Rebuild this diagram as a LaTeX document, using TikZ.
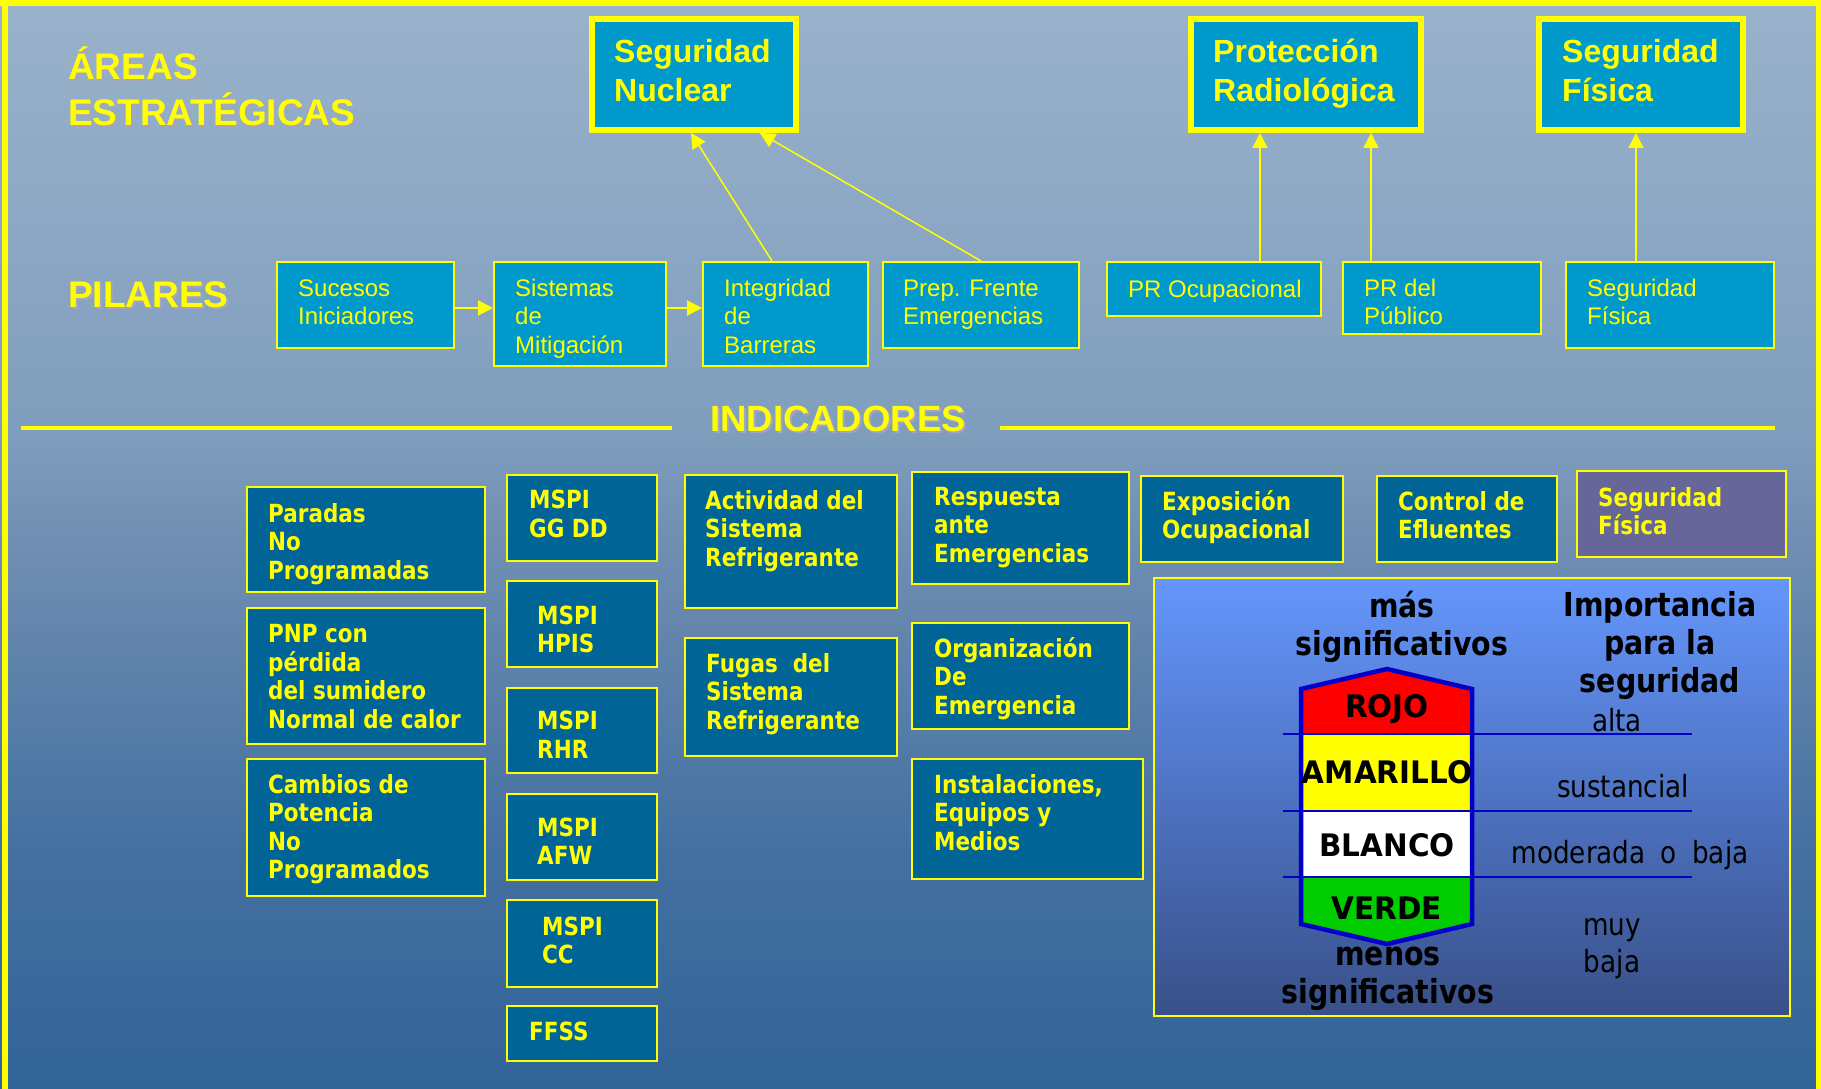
\documentclass[tikz,border=0pt]{standalone}
\usepackage{fontspec}
\setmainfont{Liberation Sans}
\newfontfamily\tah[FakeStretch=0.86]{DejaVu Sans}
\newfontfamily\tahw[FakeStretch=0.95]{DejaVu Sans}
\usetikzlibrary{arrows.meta,fit,calc}
\definecolor{bgtop}{RGB}{154,178,203}
\definecolor{bgm1}{RGB}{128,158,189}
\definecolor{bgm2}{RGB}{112,142,178}
\definecolor{bgm3}{RGB}{68,112,160}
\definecolor{bgbot}{RGB}{50,100,152}
\definecolor{areablue}{RGB}{0,153,204}
\definecolor{indblue}{RGB}{0,100,150}
\definecolor{purp}{RGB}{102,102,153}
\definecolor{legtop}{RGB}{100,150,252}
\definecolor{legbot}{RGB}{56,80,136}
\definecolor{shadowc}{RGB}{165,165,195}
\definecolor{yel}{RGB}{255,255,0}
\definecolor{sblue}{RGB}{0,0,200}
\definecolor{sred}{RGB}{255,0,0}
\definecolor{sgreen}{RGB}{0,204,0}
\pgfdeclareverticalshading{bgshade}{100bp}{color(0bp)=(bgbot); color(25bp)=(bgbot); color(36bp)=(bgm3); color(50bp)=(bgm2); color(55.5bp)=(bgm1); color(75bp)=(bgtop); color(100bp)=(bgtop)}
\newcommand\shtext[1]{\rlap{\kern2pt\raisebox{-2pt}{\textcolor{shadowc}{#1}}}#1}
\newcommand\tl[1]{\begin{tabular}[t]{@{}l@{}}#1\end{tabular}}
\newcommand\tc[1]{\begin{tabular}[t]{@{}c@{}}#1\end{tabular}}
\newcommand\bx[7]{%
  \node[#1, fit={#4 #5}] (#3) {};
  \node[#2] (#3-t) at #6 {\tl{#7}};}
\begin{document}
\begin{tikzpicture}[x=1pt,y=-1pt,
  areabox/.style={draw=yel, line width=6pt, fill=areablue, inner sep=0pt},
  pilbox/.style={draw=yel, line width=2pt, fill=areablue, inner sep=0pt},
  indbox/.style={draw=yel, line width=2.2pt, fill=indblue, inner sep=0pt},
  purbox/.style={draw=yel, line width=2.6pt, fill=purp, inner sep=0pt},
  areatxt/.style={anchor=base west, inner sep=0pt, text=yel, font=\bfseries\fontsize{32}{39}\selectfont},
  piltxt/.style={anchor=base west, inner sep=0pt, text=yel, font=\fontsize{24}{28.8}\selectfont},
  indtxt/.style={anchor=base west, inner sep=0pt, text=yel, font=\tah\bfseries\fontsize{25}{28.6}\selectfont},
  headtxt/.style={anchor=base west, inner sep=0pt, text=yel, font=\bfseries\fontsize{37}{44}\selectfont},
  legtxt/.style={anchor=base, inner sep=0pt, text=black, font=\tah\bfseries\fontsize{33}{38}\selectfont},
  shtxt/.style={anchor=base, inner sep=0pt, text=black, font=\tahw\bfseries\fontsize{31}{36}\selectfont},
  imptxt/.style={anchor=base, inner sep=0pt, text=black, font=\tah\fontsize{30.5}{37.5}\selectfont},
  arr/.style={draw=yel, line width=2pt, -{Triangle[length=15pt,width=15pt]}},
  arrthin/.style={draw=yel, line width=1.5pt, -{Triangle[length=15pt,width=15pt]}},
  sepline/.style={draw=yel, line width=4.5pt},
  blueline/.style={draw=sblue, line width=2.5pt}]
\useasboundingbox (0,0) rectangle (1821,1089);
% background
\shade[shading=bgshade] (0,0) rectangle (1821,1089);
\fill[yel] (0,0) rectangle (1821,6);
\fill[yel] (2,0) rectangle (8,1089);
\fill[yel] (1816,0) rectangle (1821,1089);

% headings
\node[headtxt] (hareas) at (68,80) {\tl{\shtext{ÁREAS}\\\shtext{ESTRATÉGICAS}}};
\node[headtxt] (hpil) at (68,307) {\shtext{PILARES}};
\node[headtxt, font=\bfseries\fontsize{36.5}{44}\selectfont] (hind) at (710,431) {\shtext{INDICADORES}};
\coordinate (sepL1) at (21,428);
\coordinate (sepR2) at (1775,428);
\draw[sepline] (sepL1) -- ($(hind.west |- sepL1)+(-38,0)$);
\draw[sepline] ($(hind.east |- sepR2)+(34,0)$) -- (sepR2);

% strategic areas
\bx{areabox}{areatxt}{sn}{(592,19)}{(796,130)}{(614,63)}{Seguridad\\Nuclear}
\bx{areabox}{areatxt}{pra}{(1191,19)}{(1421,130)}{(1213,63)}{Protección\\Radiológica}
\bx{areabox}{areatxt}{sfa}{(1539,19)}{(1743,130)}{(1562,63)}{Seguridad\\Física}

% pillars
\bx{pilbox}{piltxt}{suc}{(277,262)}{(454,348)}{(298,296)}{Sucesos\\Iniciadores}
\bx{pilbox}{piltxt}{sis}{(494,262)}{(666,366)}{(515,296)}{Sistemas\\de\\Mitigación}
\bx{pilbox}{piltxt}{int}{(703,262)}{(868,366)}{(724,296)}{Integridad\\de\\Barreras}
\bx{pilbox}{piltxt}{prep}{(883,262)}{(1079,348)}{(903,296)}{Prep. Frente\\Emergencias}
\bx{pilbox}{piltxt}{pocu}{(1107,262)}{(1321,316)}{(1128,297)}{PR Ocupacional}
\bx{pilbox}{piltxt}{ppub}{(1343,262)}{(1541,334)}{(1364,296)}{PR del\\Público}
\bx{pilbox}{piltxt}{psf}{(1566,262)}{(1774,348)}{(1587,296)}{Seguridad\\Física}

% pillar connectors
\draw[arr] (suc.east |- 0,308) -- (sis.west |- 0,308);
\draw[arr] (sis.east |- 0,308) -- (int.west |- 0,308);
\draw[arrthin] (int.north -| 772,0) -- (sn.south -| 691,0);
\draw[arrthin] (prep.north -| 981,0) -- (sn.south -| 760,0);
\draw[arrthin] (pocu.north -| 1260,0) -- (pra.south -| 1260,0);
\draw[arrthin] (ppub.north -| 1371,0) -- (pra.south -| 1371,0);
\draw[arrthin] (psf.north -| 1636,0) -- (sfa.south -| 1636,0);

% indicators
\bx{indbox}{indtxt}{i1}{(247,487)}{(485,592)}{(268,522)}{Paradas\\No\\Programadas}
\bx{indbox}{indtxt}{i2}{(247,608)}{(485,744)}{(268,642.5)}{PNP con\\pérdida\\del sumidero\\Normal de calor}
\bx{indbox}{indtxt}{i3}{(247,759)}{(485,896)}{(268,793)}{Cambios de\\Potencia\\No\\Programados}
\bx{indbox}{indtxt}{m1}{(507,475)}{(657,561)}{(529,508.5)}{MSPI\\GG DD}
\bx{indbox}{indtxt}{m2}{(507,581)}{(657,667)}{(537,624)}{MSPI\\HPIS}
\bx{indbox}{indtxt}{m3}{(507,688)}{(657,773)}{(537,729.5)}{MSPI\\RHR}
\bx{indbox}{indtxt}{m4}{(507,794)}{(657,880)}{(537,836)}{MSPI\\AFW}
\bx{indbox}{indtxt}{m5}{(507,900)}{(657,987)}{(542,935)}{MSPI\\CC}
\bx{indbox}{indtxt}{m6}{(507,1006)}{(657,1061)}{(529,1040.6)}{FFSS}
\bx{indbox}{indtxt}{a1}{(685,475)}{(897,608)}{(705,509)}{Actividad del\\Sistema\\Refrigerante}
\bx{indbox}{indtxt}{a2}{(685,638)}{(897,756)}{(706,672)}{Fugas\ \ del\\Sistema\\Refrigerante}
\bx{indbox}{indtxt}{e1}{(912,472)}{(1129,584)}{(934,505)}{Respuesta\\ante\\Emergencias}
\bx{indbox}{indtxt}{e2}{(912,623)}{(1129,729)}{(934,657)}{Organización\\De\\Emergencia}
\bx{indbox}{indtxt}{e3}{(912,759)}{(1143,879)}{(934,793)}{Instalaciones,\\Equipos y\\Medios}
\bx{indbox}{indtxt}{r1}{(1141,476)}{(1343,562)}{(1162,510)}{Exposición\\Ocupacional}
\bx{indbox}{indtxt}{r2}{(1377,476)}{(1557,562)}{(1398,510)}{Control de\\Efluentes}
\bx{purbox}{indtxt}{f1}{(1577,471)}{(1786,557)}{(1598,506)}{Seguridad\\Física}

% legend
\node[fit={(1154,578) (1790,1016)}, inner sep=0pt, draw=yel, line width=2.5pt, top color=legtop, bottom color=legbot] (legend) {};
\node[legtxt] (lmas) at (1402,617) {\tc{más\\significativos}};
\node[legtxt] (limp) at (1660,616) {\tc{Importancia\\para la\\seguridad}};
\node[legtxt] (lmenos) at (1388,965) {\tc{menos\\significativos}};
% shield
\fill[sred] (1301,734) -- (1301,689) -- (1387,669) -- (1472,689) -- (1472,734) -- cycle;
\fill[yel] (1301,734) rectangle (1472,811);
\fill[white] (1301,811) rectangle (1472,877);
\fill[sgreen] (1301,877) -- (1472,877) -- (1472,924) -- (1387,944) -- (1301,924) -- cycle;
\draw[blueline] (1283,734) -- (1692,734);
\draw[blueline] (1283,811) -- (1692,811);
\draw[blueline] (1283,877) -- (1692,877);
\draw[sblue, line width=4.5pt, line join=miter] (1301,689) -- (1387,669) -- (1472,689) -- (1472,924) -- (1387,944) -- (1301,924) -- cycle;
\node[shtxt] (lrojo) at (1387,717) {ROJO};
\node[shtxt] (lamar) at (1387,783) {AMARILLO};
\node[shtxt] (lblan) at (1387,856) {BLANCO};
\node[shtxt] (lverd) at (1387,919) {VERDE};
\node[imptxt] (lalta) at (1617,731) {alta};
\node[imptxt] (lsust) at (1623,797.5) {sustancial};
\node[imptxt] (lmod) at (1630,863.6) {moderada\hspace{7pt} o\hspace{7pt} baja};
\node[imptxt] (lmuy) at (1612,935) {\tc{muy\\baja}};
\end{tikzpicture}
\end{document}
